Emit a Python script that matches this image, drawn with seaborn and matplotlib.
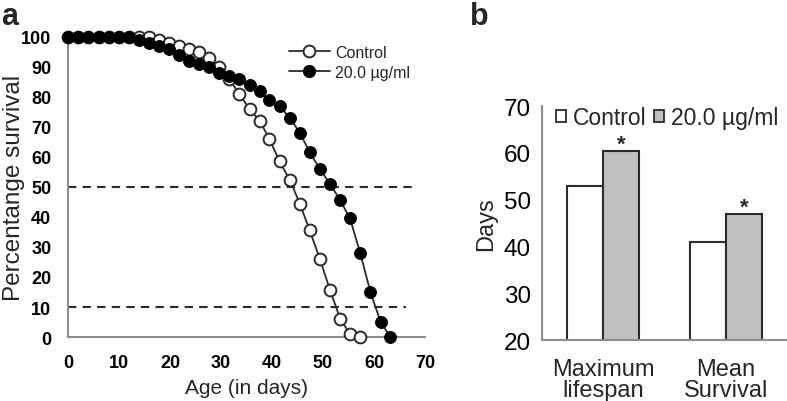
import pandas as pd
import matplotlib
matplotlib.use("Agg")
import matplotlib.pyplot as plt
import seaborn as sns
from matplotlib.lines import Line2D
from matplotlib.patches import Patch

sns.set_style("white")
plt.rcParams["font.family"] = ["Liberation Sans", "DejaVu Sans"]

# -------------------------
# Data
# -------------------------
age_treated = [0, 2, 4, 6, 8, 10, 12, 13.9, 15.8, 17.8, 19.8, 21.8, 23.7, 25.7,
               27.7, 29.7, 31.6, 33.6, 35.6, 37.6, 39.5, 41.5, 43.5, 45.5, 47.4,
               49.4, 51.4, 53.4, 55.3, 57.3, 59.3, 61.3, 63.2]
surv_treated = [100, 100, 100, 100, 100, 100, 100, 99, 98, 97, 96, 94, 92, 91,
                90, 88, 87, 86, 84, 82, 79, 77, 73, 68, 61.5,
                56, 51, 45.5, 39.5, 28, 15, 5, 0]

age_control = age_treated[:30]
surv_control = [100, 100, 100, 100, 100, 100, 100, 100, 100, 99, 98, 97, 96, 95,
                93, 90, 86, 81, 76, 72, 66, 58.5, 52.3, 44.3, 35.5,
                26, 15.5, 6, 1, 0]

metrics = ["Maximum\nlifespan", "Mean\nSurvival"]
groups = ["Control", "20.0 \u00b5g/ml"]
days_control = [53, 41]
days_treated = [60.5, 47]

bars = pd.DataFrame({
    "metric": metrics * 2,
    "group": [groups[0]] * 2 + [groups[1]] * 2,
    "days": days_control + days_treated,
})

fig = plt.figure(figsize=(7.87, 4.02), dpi=100)
gray = "#8c8c8c"
ink = "#2b2b2b"

# -------------------------
# Panel a: survival curves
# -------------------------
ax = fig.add_axes([0.0864, 0.1592, 0.4536, 0.7463])
ax.hlines([50, 10], [0, 0], [68, 66.3], colors=ink, linestyles=(0, (4, 3)), lw=1.5)
sns.lineplot(x=age_control, y=surv_control, ax=ax, color=ink, lw=1.3,
             marker="o", markersize=8.5, markerfacecolor="white",
             markeredgecolor=ink, markeredgewidth=1.4, clip_on=False, zorder=3)
sns.lineplot(x=age_treated, y=surv_treated, ax=ax, color=ink, lw=1.3,
             marker="o", markersize=8.5, markerfacecolor="black",
             markeredgecolor="black", clip_on=False, zorder=4)
ax.set_xlim(0, 70)
ax.set_ylim(0, 100)
ax.set_xticks(range(0, 71, 10))
ax.set_yticks(range(0, 101, 10))
for s in ["top", "right"]:
    ax.spines[s].set_visible(False)
for s in ["left", "bottom"]:
    ax.spines[s].set_color(gray)
    ax.spines[s].set_linewidth(1.5)
ax.tick_params(axis="both", colors=gray, width=1.5, length=5, labelcolor="black",
               labelsize=13)
ax.tick_params(axis="y", pad=7)
ax.tick_params(axis="x", direction="inout", length=8, pad=8)
for lab in ax.get_xticklabels() + ax.get_yticklabels():
    lab.set_fontweight("bold")
ax.set_xlabel("Age (in days)", fontsize=15)
ax.xaxis.set_label_coords(0.5, -0.138)
ax.set_ylabel("Percentange survival", fontsize=17.5)
ax.yaxis.set_label_coords(-0.12, 0.5)

handles = [
    Line2D([], [], color=ink, lw=1.3, marker="o", markersize=8.5,
           markerfacecolor="white", markeredgecolor=ink, markeredgewidth=1.4),
    Line2D([], [], color=ink, lw=1.3, marker="o", markersize=8.5,
           markerfacecolor="black", markeredgecolor="black"),
]
ax.legend(handles, groups, loc="upper left", bbox_to_anchor=(0.6, 0.995),
          frameon=False, fontsize=11.5, handlelength=2.6, handletextpad=0.3,
          labelspacing=0.3, borderaxespad=0)

# -------------------------
# Panel b: lifespan bars
# -------------------------
bx = fig.add_axes([0.6887, 0.1517, 0.3113, 0.582])
sns.barplot(data=bars, x="metric", y="days", hue="group", ax=bx,
            palette=["white", "#c0c0c0"], edgecolor=ink, linewidth=1.5,
            width=0.59, legend=False)
bx.set_ylim(20, 70)
bx.set_xlim(-0.5, 1.5)
bx.set_yticks(range(20, 71, 10))
bx.set_xticks([0.5])
bx.set_xticklabels([""])
bx.set_xticks([0, 1], minor=True)
bx.set_xticklabels(metrics, minor=True, fontsize=17, linespacing=0.95)
bx.tick_params(axis="x", which="minor", length=0, pad=13)
bx.tick_params(axis="x", which="major", colors=gray, width=1.5, length=6)
bx.tick_params(axis="y", colors=gray, width=1.5, length=5, labelcolor="black",
               labelsize=17.5, pad=3)
for s in ["top", "right"]:
    bx.spines[s].set_visible(False)
for s in ["left", "bottom"]:
    bx.spines[s].set_color(gray)
    bx.spines[s].set_linewidth(1.5)
bx.set_xlabel("")
bx.set_ylabel("Days", fontsize=17, labelpad=5)

# significance stars above treated bars
for patch in bx.patches[2:4]:
    bx.text(patch.get_x() + patch.get_width() / 2, patch.get_height() + 0.2, "*",
            ha="center", va="baseline", fontsize=16, fontweight="bold")

bhandles = [Patch(facecolor="white", edgecolor=ink, lw=1.3),
            Patch(facecolor="#c0c0c0", edgecolor=ink, lw=1.3)]
bx.legend(bhandles, groups, loc="upper left", bbox_to_anchor=(0.02, 1.04),
          ncol=2, frameon=False, fontsize=16.5, handlelength=0.45, handleheight=0.45,
          handletextpad=0.3, columnspacing=0.3, borderaxespad=0)

fig.text(0.002, 0.995, "a", fontsize=22, fontweight="bold", va="top")
fig.text(0.597, 0.995, "b", fontsize=22, fontweight="bold", va="top")

fig.savefig("out.png", dpi=100)
plt.close(fig)
